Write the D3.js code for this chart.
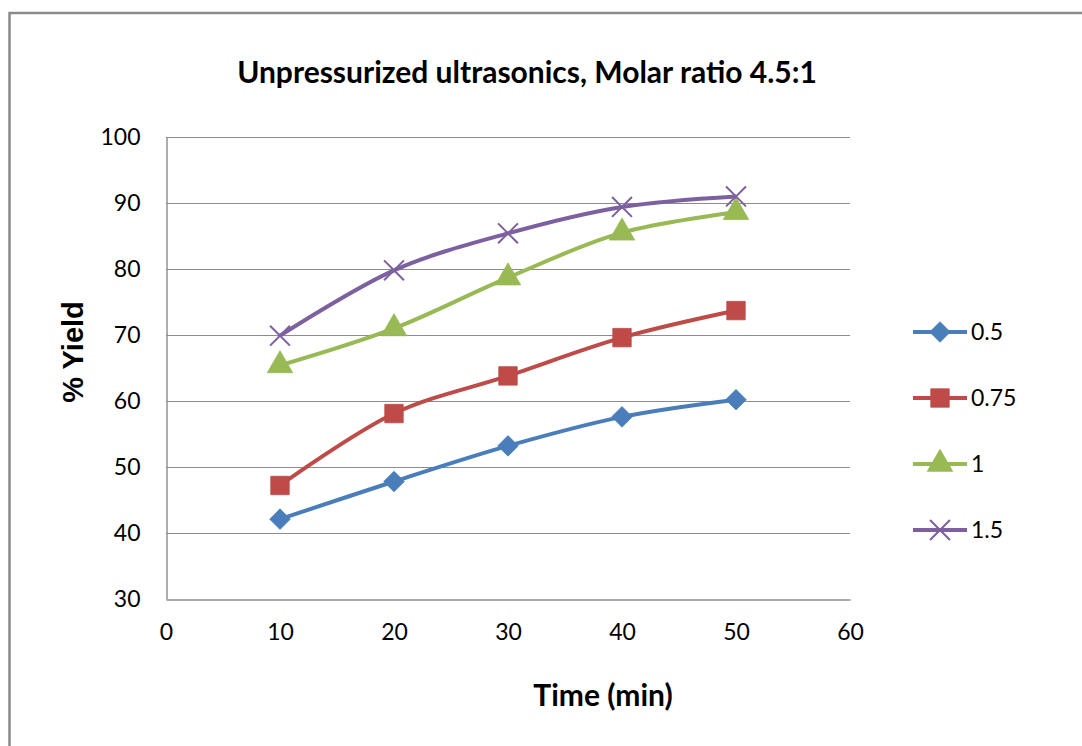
<!DOCTYPE html>
<html>
<head>
<meta charset="utf-8">
<script src="https://cdn.jsdelivr.net/npm/d3@7"></script>
<style>
  body { margin: 0; background: #fff; }
  svg { display: block; }
</style>
</head>
<body>
<div id="wrapper"></div>
<script>
// Data
const times = [10, 20, 30, 40, 50];
const seriesNames = ["0.5", "0.75", "1", "1.5"];
const yield05 = [42.1, 47.8, 53.2, 57.6, 60.2];
const yield075 = [47.2, 58.1, 63.8, 69.6, 73.7];
const yield1 = [65.4, 71.0, 78.7, 85.5, 88.6];
const yield15 = [69.9, 79.8, 85.4, 89.4, 91.0];
const xTicks = [0, 10, 20, 30, 40, 50, 60];
const yTicks = [30, 40, 50, 60, 70, 80, 90, 100];

const drawChart = () => {
    const dimensions = {
        width: 1082,
        height: 746,
        plot: { left: 166, right: 850, top: 137, bottom: 599 },
    };

    const colors = ["#4a7ebb", "#be4b48", "#98b954", "#7d60a0"];
    const symbols = [d3.symbolDiamond2, d3.symbolSquare, d3.symbolTriangle, d3.symbolTimes];
    const symbolSizes = [270, 340, 280, 260];
    const values = [yield05, yield075, yield1, yield15];
    const series = seriesNames.map((name, i) => ({
        name: name,
        color: colors[i],
        symbol: symbols[i],
        size: symbolSizes[i],
        points: times.map((t, j) => ({ x: t, y: values[i][j] })),
    }));

    const wrapper = d3.select("#wrapper")
        .append("svg")
        .attr("width", dimensions.width)
        .attr("height", dimensions.height);

    // chart frame
    wrapper.append("rect")
        .attr("x", 9.5)
        .attr("y", 13)
        .attr("width", 1100)
        .attr("height", 800)
        .attr("fill", "white")
        .attr("stroke", "#8a8a8a")
        .attr("stroke-width", 2.5);

    // Scales
    const xScale = d3.scaleLinear()
        .domain([0, 60])
        .range([dimensions.plot.left, dimensions.plot.right]);
    const yScale = d3.scaleLinear()
        .domain([30, 100])
        .range([dimensions.plot.bottom, dimensions.plot.top]);

    // Gridlines
    wrapper.append("g")
        .selectAll("line")
        .data(yTicks.slice(1))
        .join("line")
        .attr("x1", xScale(0))
        .attr("x2", xScale(60))
        .attr("y1", d => Math.round(yScale(d)) + 0.5)
        .attr("y2", d => Math.round(yScale(d)) + 0.5)
        .attr("stroke", "#8c8c8c")
        .attr("stroke-width", 1.2);

    // Axes
    const xAxis = wrapper.append("g")
        .attr("transform", `translate(0, ${Math.round(yScale(30)) + 0.5})`)
        .call(d3.axisBottom(xScale).tickValues(xTicks).tickSize(0).tickPadding(24));
    const yAxis = wrapper.append("g")
        .attr("transform", `translate(${Math.round(xScale(0)) + 0.5}, 0)`)
        .call(d3.axisLeft(yScale).tickValues(yTicks).tickSize(0).tickPadding(26));
    [xAxis, yAxis].forEach(axis => {
        axis.select(".domain").attr("stroke", "#8c8c8c").attr("stroke-width", 1.4);
        axis.selectAll("text")
            .attr("fill", "#000")
            .style("font-family", "Lato, 'Open Sans', sans-serif")
            .style("font-size", "23px");
    });

    // Lines
    const lineGenerator = d3.line()
        .x(d => xScale(d.x))
        .y(d => yScale(d.y))
        .curve(d3.curveCatmullRom.alpha(0.5));

    const seriesGroups = wrapper.append("g")
        .selectAll("g")
        .data(series)
        .join("g");
    seriesGroups.append("path")
        .attr("d", d => lineGenerator(d.points))
        .attr("fill", "none")
        .attr("stroke", d => d.color)
        .attr("stroke-width", 4)
        .attr("stroke-linejoin", "round");

    function drawMarker(sel, s) {
        const isStroke = s.symbol === d3.symbolTimes;
        sel.attr("d", d3.symbol().type(s.symbol).size(s.size)())
            .attr("fill", isStroke ? "none" : s.color)
            .attr("stroke", s.color)
            .attr("stroke-width", isStroke ? 2 : 0.8);
    }
    seriesGroups.each(function (s) {
        d3.select(this).selectAll(".marker")
            .data(s.points)
            .join("path")
            .attr("class", "marker")
            .attr("transform", d => `translate(${xScale(d.x)}, ${yScale(d.y)})`)
            .call(drawMarker, s);
    });

    // Legend
    const legend = wrapper.append("g")
        .attr("transform", "translate(913, 332)");
    const legendItems = legend.selectAll("g")
        .data(series)
        .join("g")
        .attr("transform", (d, i) => `translate(0, ${i * 66})`);
    legendItems.append("line")
        .attr("x1", 0)
        .attr("x2", 54)
        .attr("stroke", d => d.color)
        .attr("stroke-width", 4);
    legendItems.append("path")
        .attr("transform", "translate(27, 0)")
        .each(function (s) { d3.select(this).call(drawMarker, s); });
    legendItems.append("text")
        .attr("x", 58)
        .attr("dy", "0.35em")
        .style("font-family", "Lato, 'Open Sans', sans-serif")
        .style("font-size", "23px")
        .text(d => d.name);

    // Title and axis labels
    wrapper.append("text")
        .attr("x", 527)
        .attr("y", 83)
        .attr("text-anchor", "middle")
        .style("font-family", "Lato, 'Open Sans', sans-serif")
        .style("font-weight", "bold")
        .style("font-size", "30px")
        .text("Unpressurized ultrasonics, Molar ratio 4.5:1");
    wrapper.append("text")
        .attr("x", 603)
        .attr("y", 706)
        .attr("text-anchor", "middle")
        .style("font-family", "Lato, 'Open Sans', sans-serif")
        .style("font-weight", "bold")
        .style("font-size", "30px")
        .text("Time (min)");
    wrapper.append("text")
        .attr("transform", "translate(83, 352) rotate(-90)")
        .attr("text-anchor", "middle")
        .style("font-family", "'Liberation Sans', Arial, sans-serif")
        .style("font-weight", "bold")
        .style("font-size", "29px")
        .text("% Yield");
};
drawChart();
</script>
</body>
</html>
